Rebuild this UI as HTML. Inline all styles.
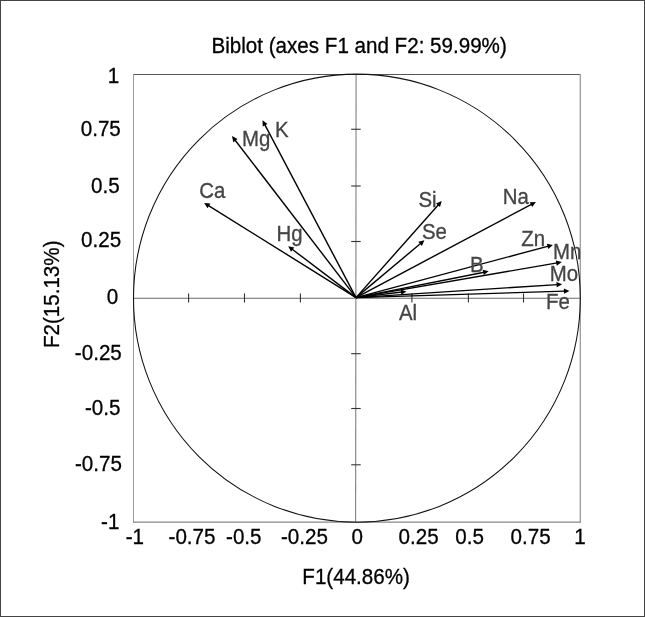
<!DOCTYPE html>
<html><head><meta charset="utf-8"><title>Biplot</title>
<style>
html,body{margin:0;padding:0;background:#fff;}
svg{display:block;font-family:"Liberation Sans",Arial,sans-serif;will-change:transform;}
</style></head><body>
<svg width="645" height="617" viewBox="0 0 645 617">
<rect x="0.5" y="0.5" width="644" height="616" fill="#fff" stroke="#444" stroke-width="1"/>
<text transform="translate(359.15,52.80) scale(0.958,1)" text-anchor="middle" font-size="21.5" fill="#000" stroke="#000" stroke-width="0.3">Biblot (axes F1 and F2: 59.99%)</text>
<text transform="translate(356.10,583.80) scale(0.958,1)" text-anchor="middle" font-size="21.5" fill="#000" stroke="#000" stroke-width="0.3">F1(44.86%)</text>
<text transform="translate(58.80,294.30) rotate(-90) scale(0.958,1)" text-anchor="middle" font-size="21.5" fill="#000" stroke="#000" stroke-width="0.3">F2(15.13%)</text>
<text transform="translate(119.10,82.50) scale(0.958,1)" text-anchor="end" font-size="21.5" fill="#000" stroke="#000" stroke-width="0.3">1</text>
<text transform="translate(120.80,135.80) scale(0.958,1)" text-anchor="end" font-size="21.5" fill="#000" stroke="#000" stroke-width="0.3">0.75</text>
<text transform="translate(119.75,192.60) scale(0.958,1)" text-anchor="end" font-size="21.5" fill="#000" stroke="#000" stroke-width="0.3">0.5</text>
<text transform="translate(121.10,247.20) scale(0.958,1)" text-anchor="end" font-size="21.5" fill="#000" stroke="#000" stroke-width="0.3">0.25</text>
<text transform="translate(118.25,303.70) scale(0.958,1)" text-anchor="end" font-size="21.5" fill="#000" stroke="#000" stroke-width="0.3">0</text>
<text transform="translate(121.80,360.10) scale(0.958,1)" text-anchor="end" font-size="21.5" fill="#000" stroke="#000" stroke-width="0.3">-0.25</text>
<text transform="translate(120.50,414.70) scale(0.958,1)" text-anchor="end" font-size="21.5" fill="#000" stroke="#000" stroke-width="0.3">-0.5</text>
<text transform="translate(121.90,470.70) scale(0.958,1)" text-anchor="end" font-size="21.5" fill="#000" stroke="#000" stroke-width="0.3">-0.75</text>
<text transform="translate(119.40,528.60) scale(0.958,1)" text-anchor="end" font-size="21.5" fill="#000" stroke="#000" stroke-width="0.3">-1</text>
<text transform="translate(134.90,543.80) scale(0.958,1)" text-anchor="middle" font-size="21.5" fill="#000" stroke="#000" stroke-width="0.3">-1</text>
<text transform="translate(192.00,543.80) scale(0.958,1)" text-anchor="middle" font-size="21.5" fill="#000" stroke="#000" stroke-width="0.3">-0.75</text>
<text transform="translate(243.80,543.80) scale(0.958,1)" text-anchor="middle" font-size="21.5" fill="#000" stroke="#000" stroke-width="0.3">-0.5</text>
<text transform="translate(304.40,543.80) scale(0.958,1)" text-anchor="middle" font-size="21.5" fill="#000" stroke="#000" stroke-width="0.3">-0.25</text>
<text transform="translate(357.15,543.80) scale(0.958,1)" text-anchor="middle" font-size="21.5" fill="#000" stroke="#000" stroke-width="0.3">0</text>
<text transform="translate(418.60,543.80) scale(0.958,1)" text-anchor="middle" font-size="21.5" fill="#000" stroke="#000" stroke-width="0.3">0.25</text>
<text transform="translate(469.55,543.80) scale(0.958,1)" text-anchor="middle" font-size="21.5" fill="#000" stroke="#000" stroke-width="0.3">0.5</text>
<text transform="translate(530.55,543.80) scale(0.958,1)" text-anchor="middle" font-size="21.5" fill="#000" stroke="#000" stroke-width="0.3">0.75</text>
<text transform="translate(580.00,543.80) scale(0.958,1)" text-anchor="middle" font-size="21.5" fill="#000" stroke="#000" stroke-width="0.3">1</text>
<defs><clipPath id="pc"><rect x="133" y="74" width="447.5" height="448.5"/></clipPath></defs>
<line x1="133" y1="298.3" x2="580" y2="298.3" stroke="#6a6a6a" stroke-width="1.1"/>
<line x1="356.1" y1="74" x2="355.6" y2="522" stroke="#8a8a8a" stroke-width="1.2"/>
<line x1="188.6" y1="293.4" x2="188.6" y2="302.6" stroke="#333" stroke-width="1.1"/>
<line x1="244.5" y1="293.4" x2="244.5" y2="302.6" stroke="#333" stroke-width="1.1"/>
<line x1="300.4" y1="293.4" x2="300.4" y2="302.6" stroke="#333" stroke-width="1.1"/>
<line x1="411.9" y1="293.4" x2="411.9" y2="302.6" stroke="#333" stroke-width="1.1"/>
<line x1="468.4" y1="293.4" x2="468.4" y2="302.6" stroke="#333" stroke-width="1.1"/>
<line x1="523.5" y1="293.4" x2="523.5" y2="302.6" stroke="#333" stroke-width="1.1"/>
<line x1="351.2" y1="129.25" x2="360.7" y2="129.25" stroke="#333" stroke-width="1.1"/>
<line x1="351.2" y1="186" x2="360.7" y2="186" stroke="#333" stroke-width="1.1"/>
<line x1="351.2" y1="241.5" x2="360.7" y2="241.5" stroke="#333" stroke-width="1.1"/>
<line x1="351.2" y1="353.7" x2="360.7" y2="353.7" stroke="#333" stroke-width="1.1"/>
<line x1="351.2" y1="408.5" x2="360.7" y2="408.5" stroke="#333" stroke-width="1.1"/>
<line x1="351.2" y1="464.8" x2="360.7" y2="464.8" stroke="#333" stroke-width="1.1"/>
<line x1="133" y1="74.5" x2="580.5" y2="74.5" stroke="#555" stroke-width="1"/>
<line x1="133.5" y1="74" x2="133.5" y2="522.5" stroke="#999" stroke-width="1"/>
<line x1="580.3" y1="74" x2="580.3" y2="522.5" stroke="#999" stroke-width="1.3"/>
<line x1="133" y1="522.1" x2="581" y2="522.1" stroke="#888" stroke-width="1.3"/>
<ellipse cx="356.9" cy="298.15" rx="223.4" ry="224.0" fill="none" stroke="#111" stroke-width="1.05"/>
<g clip-path="url(#pc)">
<line x1="356.0" y1="297.6" x2="264.65" y2="124.37" stroke="#000" stroke-width="1.4"/>
<path d="M262.50,120.30 L267.50,123.99 L262.72,126.51 Z" fill="#000"/>
<line x1="356.0" y1="297.6" x2="234.80" y2="139.75" stroke="#000" stroke-width="1.4"/>
<path d="M232.00,136.10 L237.55,138.90 L233.27,142.19 Z" fill="#000"/>
<line x1="356.0" y1="297.6" x2="208.10" y2="205.33" stroke="#000" stroke-width="1.4"/>
<path d="M204.20,202.90 L210.38,203.57 L207.52,208.15 Z" fill="#000"/>
<line x1="356.0" y1="297.6" x2="291.87" y2="248.98" stroke="#000" stroke-width="1.4"/>
<path d="M288.20,246.20 L294.29,247.43 L291.03,251.73 Z" fill="#000"/>
<line x1="356.0" y1="297.6" x2="438.65" y2="204.54" stroke="#000" stroke-width="1.4"/>
<path d="M441.70,201.10 L440.00,207.08 L435.96,203.49 Z" fill="#000"/>
<line x1="356.0" y1="297.6" x2="420.87" y2="243.25" stroke="#000" stroke-width="1.4"/>
<path d="M424.40,240.30 L421.84,245.97 L418.37,241.83 Z" fill="#000"/>
<line x1="356.0" y1="297.6" x2="531.84" y2="204.16" stroke="#000" stroke-width="1.4"/>
<path d="M535.90,202.00 L532.22,207.01 L529.69,202.24 Z" fill="#000"/>
<line x1="356.0" y1="297.6" x2="548.46" y2="246.09" stroke="#000" stroke-width="1.4"/>
<path d="M552.90,244.90 L548.19,248.96 L546.79,243.74 Z" fill="#000"/>
<line x1="356.0" y1="297.6" x2="557.27" y2="262.88" stroke="#000" stroke-width="1.4"/>
<path d="M561.80,262.10 L556.74,265.71 L555.82,260.39 Z" fill="#000"/>
<line x1="356.0" y1="297.6" x2="557.61" y2="284.60" stroke="#000" stroke-width="1.4"/>
<path d="M562.20,284.30 L556.79,287.35 L556.44,281.97 Z" fill="#000"/>
<line x1="356.0" y1="297.6" x2="564.90" y2="291.14" stroke="#000" stroke-width="1.4"/>
<path d="M569.50,291.00 L563.99,293.87 L563.82,288.47 Z" fill="#000"/>
<line x1="356.0" y1="297.6" x2="484.19" y2="272.19" stroke="#000" stroke-width="1.4"/>
<path d="M488.70,271.30 L483.73,275.04 L482.68,269.74 Z" fill="#000"/>
<line x1="356.0" y1="297.6" x2="401.93" y2="292.05" stroke="#000" stroke-width="1.4"/>
<path d="M406.50,291.50 L401.26,294.85 L400.62,289.49 Z" fill="#000"/>
<text transform="translate(275.00,137.10) scale(0.95,1)" font-size="21.5" fill="#444" stroke="#444" stroke-width="0.3">K</text>
<text transform="translate(241.90,146.40) scale(0.95,1)" font-size="21.5" fill="#444" stroke="#444" stroke-width="0.3">Mg</text>
<text transform="translate(199.30,198.10) scale(0.95,1)" font-size="21.5" fill="#444" stroke="#444" stroke-width="0.3">Ca</text>
<text transform="translate(276.60,241.20) scale(0.95,1)" font-size="21.5" fill="#444" stroke="#444" stroke-width="0.3">Hg</text>
<text transform="translate(418.40,206.50) scale(0.95,1)" font-size="21.5" fill="#444" stroke="#444" stroke-width="0.3">Si</text>
<text transform="translate(421.90,239.20) scale(0.95,1)" font-size="21.5" fill="#444" stroke="#444" stroke-width="0.3">Se</text>
<text transform="translate(502.70,204.20) scale(0.95,1)" font-size="21.5" fill="#444" stroke="#444" stroke-width="0.3">Na</text>
<text transform="translate(521.20,245.50) scale(0.95,1)" font-size="21.5" fill="#444" stroke="#444" stroke-width="0.3">Zn</text>
<text transform="translate(552.90,258.80) scale(0.95,1)" font-size="21.5" fill="#444" stroke="#444" stroke-width="0.3">Mn</text>
<text transform="translate(549.80,281.30) scale(0.95,1)" font-size="21.5" fill="#444" stroke="#444" stroke-width="0.3">Mo</text>
<text transform="translate(546.10,309.00) scale(0.95,1)" font-size="21.5" fill="#444" stroke="#444" stroke-width="0.3">Fe</text>
<text transform="translate(470.00,272.30) scale(0.95,1)" font-size="21.5" fill="#444" stroke="#444" stroke-width="0.3">B</text>
<text transform="translate(399.00,320.10) scale(0.95,1)" font-size="21.5" fill="#444" stroke="#444" stroke-width="0.3">Al</text>
</g>
</svg>
</body></html>
